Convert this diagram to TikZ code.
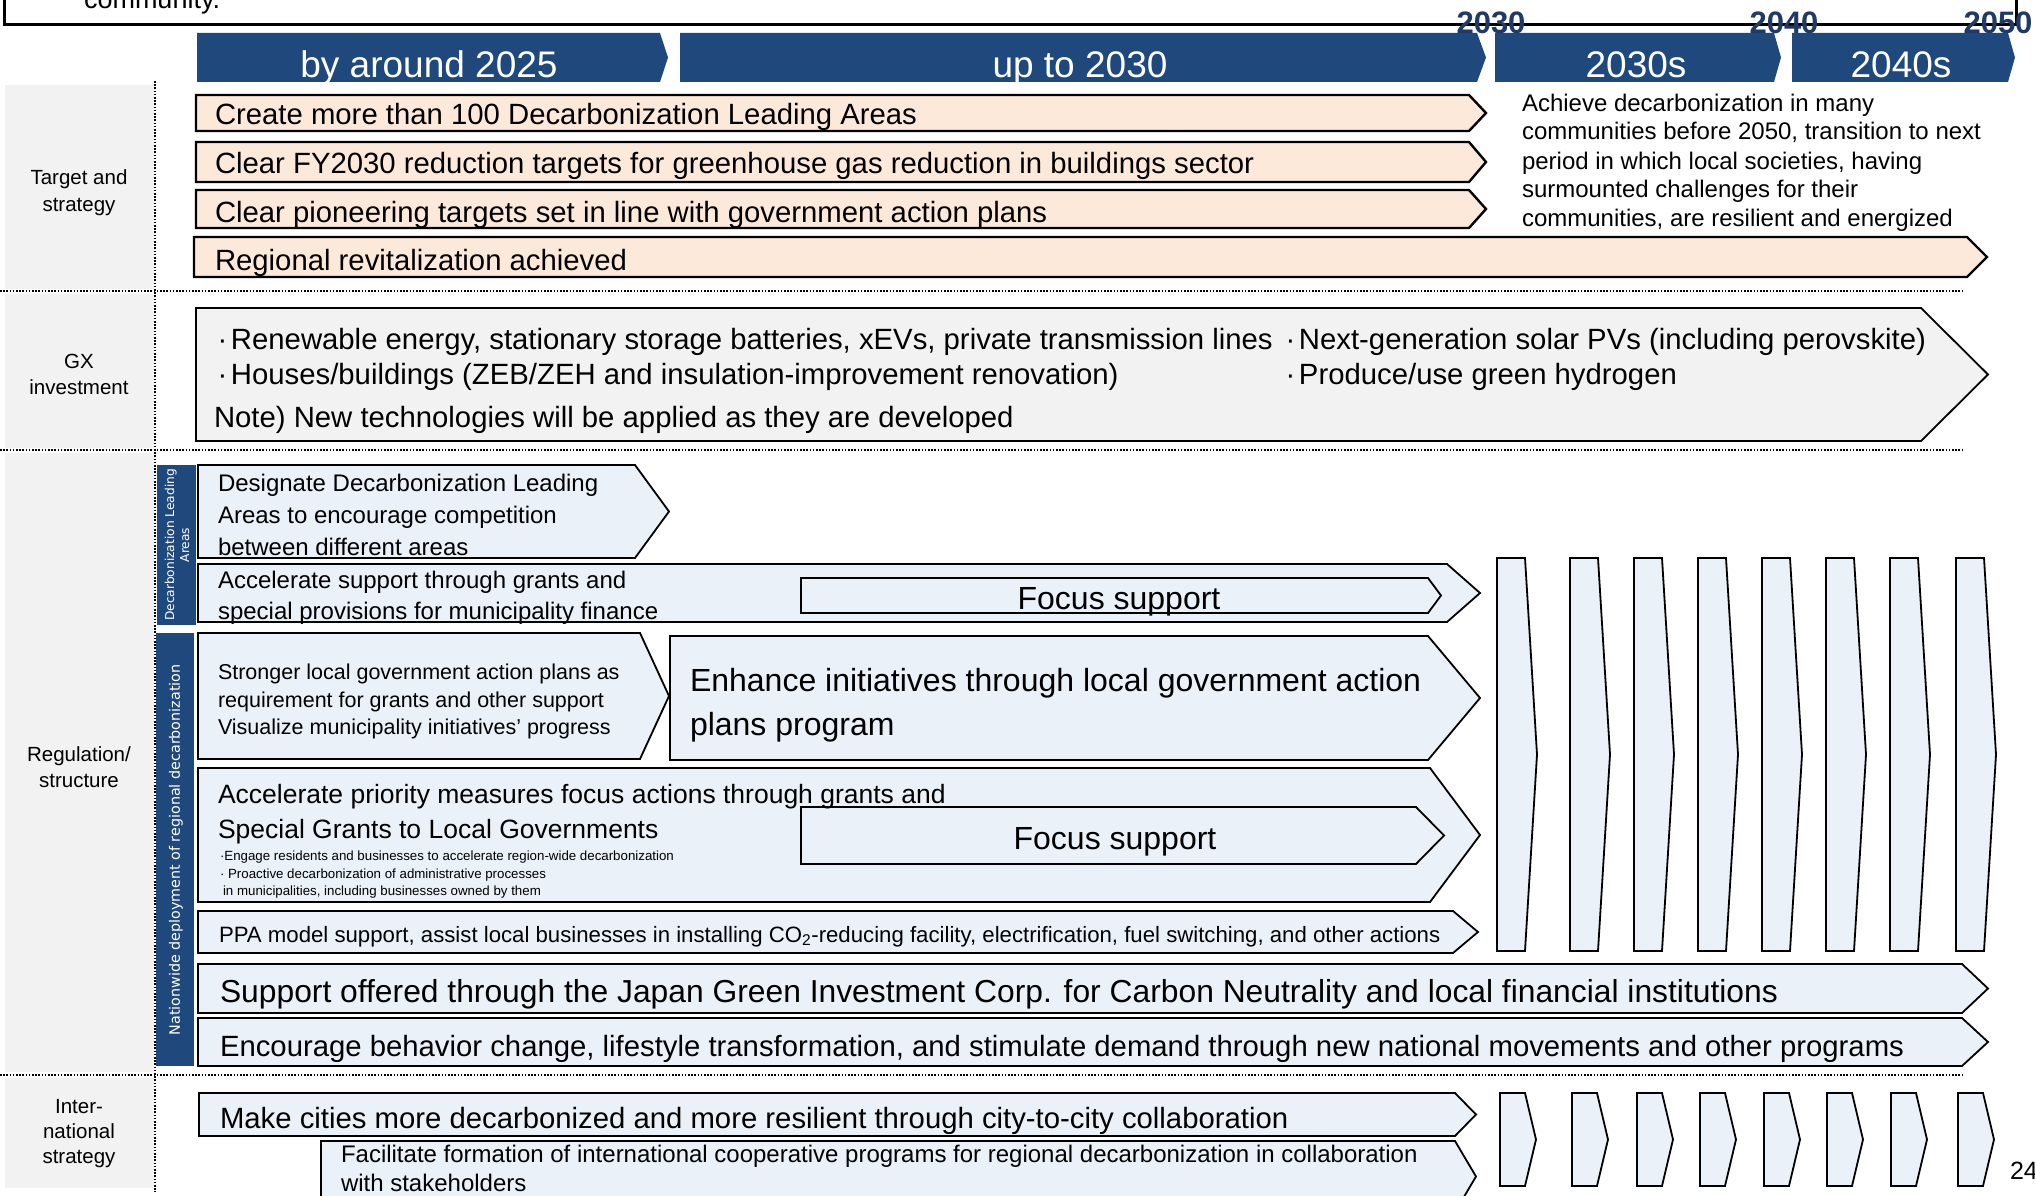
\documentclass[tikz,border=0pt]{standalone}
\usepackage{fontspec}
\setmainfont{Liberation Sans}
\newfontfamily\barfont{DejaVu Sans}

\definecolor{hdrblue}{HTML}{1F497D}
\definecolor{yearblue}{HTML}{1F3A66}
\definecolor{peach}{HTML}{FDE9D9}
\definecolor{paleblue}{HTML}{EBF1F9}
\definecolor{colgrey}{HTML}{F2F2F2}

\newcommand{\fsz}[1]{\fontsize{#1}{#1}\selectfont}
\newcommand{\bul}{\makebox[17pt][c]{·}}

\tikzset{
  lbl/.style={anchor=base west, inner sep=0pt, outer sep=0pt},
  clbl/.style={anchor=base, inner sep=0pt, outer sep=0pt},
  hdrshape/.style={fill=hdrblue, draw=none},
  peachshape/.style={fill=peach, draw=black, line width=2.4pt},
  blueshape/.style={fill=paleblue, draw=black, line width=1.8pt},
  greyshape/.style={fill=colgrey, draw=black, line width=1.8pt},
  dotline/.style={line width=1.8pt, dash pattern=on 1.6pt off 1.6pt},
}

% chevron: style, left x, top y, body end x, tip x, bottom y
\newcommand{\chevron}[6]{\draw[#1] (#2,#3) -- (#4,#3) -- (#5,{(#3+#6)/2}) -- (#4,#6) -- (#2,#6) -- cycle;}

\begin{document}
\begin{tikzpicture}[x=1pt,y=-1pt]
\useasboundingbox (0,0) rectangle (2035,1196);
\fill[white] (0,0) rectangle (2035,1196);

% frame of the preceding text block
\draw[line width=3pt, fill=white] (4,-60) rectangle (2016,25);
\node[lbl, font=\fsz{27}] (community) at (84,9) {community.};

% category column
\fill[colgrey] (5,85) rectangle (154,289);
\fill[colgrey] (5,294) rectangle (154,448);
\fill[colgrey] (5,453) rectangle (154,1072);
\fill[colgrey] (5,1078) rectangle (154,1188);
\draw[dotline] (155,81) -- (155,1192);
\draw[dotline] (0,291) -- (1962,291);
\draw[dotline] (0,450) -- (1962,450);
\draw[dotline] (0,1075) -- (1962,1075);

\node[clbl, font=\fsz{20.5}] (cat1a) at (79,185) {Target and};
\node[clbl, font=\fsz{20.5}] (cat1b) at (79,211) {strategy};
\node[clbl, font=\fsz{20.5}] (cat2a) at (79,368) {GX};
\node[clbl, font=\fsz{20.5}] (cat2b) at (79,394) {investment};
\node[clbl, font=\fsz{20.5}] (cat3a) at (79,761) {Regulation/};
\node[clbl, font=\fsz{20.5}] (cat3b) at (79,787) {structure};
\node[clbl, font=\fsz{20.5}] (cat4a) at (79,1113) {Inter-};
\node[clbl, font=\fsz{20.5}] (cat4b) at (79,1138) {national};
\node[clbl, font=\fsz{20.5}] (cat4c) at (79,1163) {strategy};

% timeline header
\chevron{hdrshape}{197}{33}{660}{668}{82}
\chevron{hdrshape}{680}{33}{1477}{1486}{82}
\chevron{hdrshape}{1495}{33}{1774}{1781}{82}
\chevron{hdrshape}{1792}{33}{2008}{2015}{82}
\node[clbl, text=white, font=\fsz{37}] (h1) at (429,78) {by around 2025};
\node[clbl, text=white, font=\fsz{37}] (h2) at (1080,78) {up to 2030};
\node[clbl, text=white, font=\fsz{37}] (h3) at (1636,78) {2030s};
\node[clbl, text=white, font=\fsz{37}] (h4) at (1901,78) {2040s};
\node[clbl, text=yearblue, font=\bfseries\fsz{31}] (y2030) at (1491,34) {2030};
\node[clbl, text=yearblue, font=\bfseries\fsz{31}] (y2040) at (1784,34) {2040};
\node[clbl, text=yearblue, font=\bfseries\fsz{31}] (y2050) at (1998,34) {2050};

% targets and strategy
\chevron{peachshape}{196}{95}{1469}{1486}{131}
\chevron{peachshape}{196}{142}{1469}{1486}{182}
\chevron{peachshape}{196}{190}{1469}{1486}{228}
\chevron{peachshape}{194}{237}{1967}{1987}{277}
\node[lbl, font=\fsz{29.3}] (t1) at (215,125) {Create more than 100 Decarbonization Leading Areas};
\node[lbl, font=\fsz{29.3}] (t2) at (215,174) {Clear FY2030 reduction targets for greenhouse gas reduction in buildings sector};
\node[lbl, font=\fsz{29.3}] (t3) at (215,222) {Clear pioneering targets set in line with government action plans};
\node[lbl, font=\fsz{29.3}] (t4) at (215,270) {Regional revitalization achieved};
\node[lbl, font=\fsz{24}] (goal1) at (1522,112) {Achieve decarbonization in many};
\node[lbl, font=\fsz{24}] (goal2) at (1522,140) {communities before 2050, transition to next};
\node[lbl, font=\fsz{24}] (goal3) at (1522,169) {period in which local societies, having};
\node[lbl, font=\fsz{24}] (goal4) at (1522,197) {surmounted challenges for their};
\node[lbl, font=\fsz{24}] (goal5) at (1522,226) {communities, are resilient and energized};

% GX investment
\chevron{greyshape}{196}{308}{1921}{1988}{441}
\node[lbl, font=\fsz{29.3}] (gx1) at (214,349) {\bul Renewable energy, stationary storage batteries, xEVs, private transmission lines};
\node[lbl, font=\fsz{29.3}] (gx2) at (214,384) {\bul Houses/buildings (ZEB/ZEH and insulation-improvement renovation)};
\node[lbl, font=\fsz{29.3}] (gx3) at (214,427) {Note) New technologies will be applied as they are developed};
\node[lbl, font=\fsz{29.3}] (gx4) at (1282,349) {\bul Next-generation solar PVs (including perovskite)};
\node[lbl, font=\fsz{29.3}] (gx5) at (1282,384) {\bul Produce/use green hydrogen};

% regulation / structure: side bars
\fill[hdrblue] (157,465) rectangle (196,625);
\fill[hdrblue] (156,633) rectangle (194,1066);
\node[rotate=90, text=white, align=center, inner sep=0pt,
      font=\barfont\fontsize{12.2}{15}\selectfont] (bartxt1) at (177,545) {Decarbonization Leading\\Areas};
\node[rotate=90, text=white, inner sep=0pt,
      font=\barfont\fontsize{14.3}{16}\selectfont] (bartxt2) at (176,850) {Nationwide deployment of regional decarbonization};

% regulation / structure: measures
\chevron{blueshape}{198}{465}{635}{669}{558}
\chevron{blueshape}{198}{564}{1447}{1480}{622}
\chevron{blueshape}{801}{578}{1428}{1441}{613}
\chevron{blueshape}{198}{633}{640}{669}{759}
\chevron{blueshape}{670}{636}{1428}{1480}{760}
\chevron{blueshape}{198}{768}{1430}{1480}{902}
\chevron{blueshape}{801}{807}{1416}{1444}{864}
\chevron{blueshape}{198}{911}{1453}{1478}{953}
\chevron{blueshape}{198}{964}{1962}{1988}{1013}
\chevron{blueshape}{198}{1018}{1962}{1988}{1066}

\node[lbl, font=\fsz{24}] (ra1) at (218,491) {Designate Decarbonization Leading};
\node[lbl, font=\fsz{24}] (ra2) at (218,523) {Areas to encourage competition};
\node[lbl, font=\fsz{24}] (ra3) at (218,555) {between different areas};
\node[lbl, font=\fsz{24}] (rb1) at (218,588) {Accelerate support through grants and};
\node[lbl, font=\fsz{24}] (rb2) at (218,619) {special provisions for municipality finance};
\node[clbl, font=\fsz{32}] (fs1) at (1119,609) {Focus support};
\node[lbl, font=\fsz{21.5}] (rc1) at (218,679) {Stronger local government action plans as};
\node[lbl, font=\fsz{21.5}] (rc2) at (218,707) {requirement for grants and other support};
\node[lbl, font=\fsz{21.5}] (rc3) at (218,734) {Visualize municipality initiatives’ progress};
\node[lbl, font=\fsz{32}] (rd1) at (690,691) {Enhance initiatives through local government action};
\node[lbl, font=\fsz{32}] (rd2) at (690,735) {plans program};
\node[lbl, font=\fsz{26.5}] (re1) at (218,803) {Accelerate priority measures focus actions through grants and};
\node[lbl, font=\fsz{26.5}] (re2) at (218,838) {Special Grants to Local Governments};
\node[lbl, font=\fsz{13.3}] (re3) at (220,860) {·Engage residents and businesses to accelerate region-wide decarbonization};
\node[lbl, font=\fsz{13.3}] (re4) at (220,878) {· Proactive decarbonization of administrative processes};
\node[lbl, font=\fsz{13.3}] (re5) at (223,895) {in municipalities, including businesses owned by them};
\node[clbl, font=\fsz{32}] (fs2) at (1115,849) {Focus support};
\node[lbl, font=\fsz{22.2}] (rf) at (219,942) {PPA model support, assist local businesses in installing CO\textsubscript{2}-reducing facility, electrification, fuel switching, and other actions};
\node[lbl, font=\fsz{31.8}] (rg) at (220,1002) {Support offered through the Japan Green Investment Corp. for Carbon Neutrality and local financial institutions};
\node[lbl, font=\fsz{29.3}] (rh) at (220,1056) {Encourage behavior change, lifestyle transformation, and stimulate demand through new national movements and other programs};

% continuation arrows after 2030
\foreach \xl in {1497,1570,1634,1698,1762,1826,1890,1956}{
  \chevron{blueshape}{\xl}{558}{\xl+28}{\xl+40}{951}
}

% international strategy
\chevron{blueshape}{199}{1093}{1455}{1476}{1136}
\chevron{blueshape}{321}{1141}{1455}{1476}{1212}
\node[lbl, font=\fsz{29.3}] (ri) at (220,1128) {Make cities more decarbonized and more resilient through city-to-city collaboration};
\node[lbl, font=\fsz{24}] (rj1) at (341,1162) {Facilitate formation of international cooperative programs for regional decarbonization in collaboration};
\node[lbl, font=\fsz{24}] (rj2) at (341,1191) {with stakeholders};
\foreach \xl in {1500,1572,1637,1700,1764,1827,1891,1958}{
  \chevron{blueshape}{\xl}{1093}{\xl+25}{\xl+36}{1186}
}

% page number
\node[lbl, font=\fsz{25}] (pagenum) at (2010,1179) {24};
\end{tikzpicture}
\end{document}
